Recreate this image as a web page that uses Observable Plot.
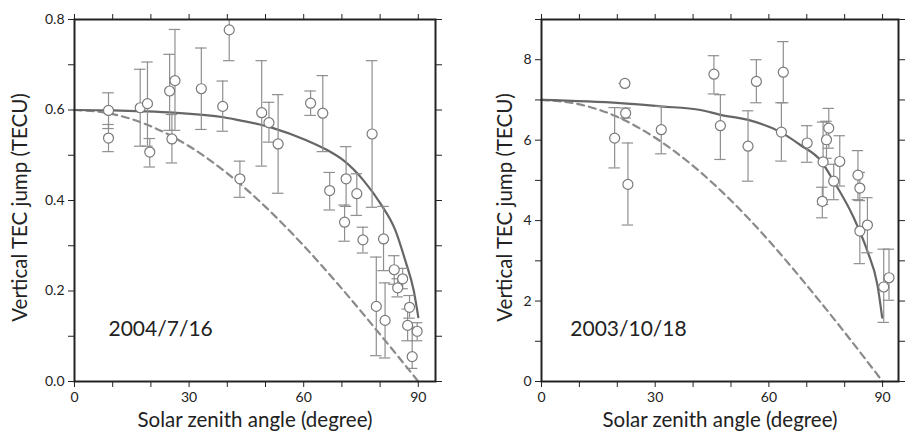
<!DOCTYPE html>
<html>
<head>
<meta charset="utf-8">
<script src="https://cdn.jsdelivr.net/npm/d3@7"></script>
<script src="https://cdn.jsdelivr.net/npm/@observablehq/plot@0.6"></script>
<style>
  html, body { margin: 0; padding: 0; background: #fff; }
  #wrap { display: flex; flex-direction: row; width: 905px; height: 439px; }
  svg { font-family: Lato, "Noto Sans", sans-serif; }
</style>
</head>
<body>
<div id="wrap"></div>
<script>
// ---------- Left panel: 2004/7/16 ----------
const leftAngle = [8.9, 8.9, 17.2, 19.1, 19.7, 24.9, 26.3, 25.5, 33.2, 40.5, 38.8, 43.3, 49.0, 50.9, 53.3, 61.8, 65.0, 66.8, 71.1, 70.7, 73.9, 77.9, 75.5, 80.9, 79.0, 81.3, 83.7, 84.6, 85.9, 87.7, 87.2, 89.7, 88.4];
const leftTec   = [0.599, 0.538, 0.605, 0.614, 0.507, 0.642, 0.665, 0.536, 0.647, 0.777, 0.608, 0.448, 0.594, 0.572, 0.525, 0.615, 0.593, 0.422, 0.448, 0.352, 0.415, 0.547, 0.313, 0.315, 0.166, 0.135, 0.247, 0.207, 0.227, 0.164, 0.124, 0.111, 0.055];
const leftLow   = [0.559, 0.508, 0.520, 0.520, 0.474, 0.555, 0.555, 0.483, 0.557, 0.709, 0.553, 0.407, 0.476, 0.529, 0.416, 0.588, 0.508, 0.379, 0.387, 0.310, 0.367, 0.385, 0.284, 0.245, 0.057, 0.052, 0.215, 0.187, 0.205, 0.140, 0.090, 0.090, 0.029];
const leftHigh  = [0.638, 0.568, 0.690, 0.706, 0.537, 0.723, 0.778, 0.590, 0.737, 0.845, 0.664, 0.487, 0.709, 0.617, 0.634, 0.642, 0.676, 0.462, 0.519, 0.390, 0.459, 0.709, 0.341, 0.387, 0.275, 0.218, 0.278, 0.227, 0.250, 0.190, 0.160, 0.130, 0.120];

const leftSolidAngle = [0, 10, 18, 26, 39, 43.3, 48.5, 52, 60.7, 66.0, 70.5, 75.7, 80.1, 84.0, 86.6, 88.8, 90.0];
const leftSolidTec   = [0.600, 0.599, 0.597, 0.594, 0.584, 0.577, 0.568, 0.560, 0.533, 0.512, 0.488, 0.444, 0.393, 0.334, 0.267, 0.201, 0.142];
const leftDashAngle  = [0, 10, 20, 30, 40, 50, 60, 70, 80, 90];
const leftDashTec    = [0.600, 0.591, 0.564, 0.520, 0.460, 0.386, 0.300, 0.205, 0.104, 0.000];

// ---------- Right panel: 2003/10/18 ----------
const rightAngle = [19.3, 22.0, 22.2, 22.8, 31.6, 45.5, 47.2, 54.5, 56.7, 63.8, 63.3, 70.1, 75.8, 75.2, 74.3, 78.7, 77.1, 83.5, 84.0, 74.1, 84.0, 86.0, 91.7, 90.3];
const rightTec   = [6.05, 7.41, 6.67, 4.90, 6.26, 7.64, 6.36, 5.85, 7.46, 7.69, 6.20, 5.93, 6.30, 6.01, 5.46, 5.47, 4.98, 5.13, 4.81, 4.48, 3.74, 3.89, 2.58, 2.35];
const rightLow   = [5.31, 7.41, 6.55, 3.89, 5.66, 7.15, 5.52, 4.98, 6.93, 6.93, 5.48, 5.45, 5.80, 5.55, 4.40, 4.86, 4.52, 4.52, 4.50, 4.07, 2.93, 3.20, 2.02, 1.47];
const rightHigh  = [6.81, 7.41, 6.80, 5.93, 6.84, 8.10, 7.13, 6.73, 8.00, 8.45, 6.93, 6.36, 6.79, 6.47, 6.45, 6.11, 5.40, 5.74, 5.20, 4.83, 4.50, 4.57, 3.29, 3.29];

const rightSolidAngle = [0, 20.8, 31.4, 42, 47.2, 54.3, 63.1, 68.3, 73.6, 77.1, 82.4, 86.0, 88.6, 89.9];
const rightSolidTec   = [7.00, 6.92, 6.84, 6.75, 6.63, 6.51, 6.20, 5.88, 5.50, 4.98, 4.07, 3.24, 2.42, 1.59];
const rightDashAngle  = [0, 10, 20, 30, 40, 50, 60, 70, 80, 90];
const rightDashTec    = [7.00, 6.89, 6.58, 6.06, 5.36, 4.50, 3.50, 2.39, 1.22, 0.00];

const xTicks = [0, 10, 20, 30, 40, 50, 60, 70, 80, 90];
const xLabels = [0, 30, 60, 90];
const leftYTicks = [0, 0.1, 0.2, 0.3, 0.4, 0.5, 0.6, 0.7, 0.8];
const leftYLabels = [0, 0.2, 0.4, 0.6, 0.8];
const rightYTicks = [0, 1, 2, 3, 4, 5, 6, 7, 8, 9];
const rightYLabels = [0, 2, 4, 6, 8];

const xTitle = "Solar zenith angle (degree)";
const yTitle = "Vertical TEC jump (TECU)";
const leftTag = "2004/7/16";
const rightTag = "2003/10/18";
const leftTagPos = [8.9, 0.10];
const rightTagPos = [7.6, 1.14];

const zip = (a, v, lo, hi) => a.map((x, i) => ({x, y: v[i], lo: lo[i], hi: hi[i]}));
const pairs = (a, v) => a.map((x, i) => ({x, y: v[i]}));

function panel({width, marginLeft, marginRight, xMax, yMax, yTicks, yLabels, yFmt, pts, solid, dash, tag, tagPos, yTitleDx}) {
  const cap = 1.5;
  return Plot.plot({
    width, height: 439,
    marginLeft, marginRight, marginTop: 19, marginBottom: 58,
    style: {fontFamily: "Lato, 'Noto Sans', sans-serif", fontSize: "14px", color: "#222", background: "#fff"},
    x: {domain: [0, xMax]},
    y: {domain: [0, yMax]},
    marks: [
      Plot.line(dash, {x: "x", y: "y", stroke: "#8a8a8a", strokeWidth: 2.2, strokeDasharray: "7,5", curve: "monotone-x"}),
      Plot.line(solid, {x: "x", y: "y", stroke: "#666", strokeWidth: 2.2, curve: "monotone-x"}),
      Plot.ruleX(pts, {x: "x", y1: "lo", y2: "hi", stroke: "#8f8f8f", strokeWidth: 1.2, clip: true}),
      Plot.ruleY(pts, {y: "lo", x1: d => d.x - cap, x2: d => d.x + cap, stroke: "#8f8f8f", strokeWidth: 1.2, clip: true}),
      Plot.ruleY(pts.filter(d => d.hi <= yMax), {y: "hi", x1: d => d.x - cap, x2: d => d.x + cap, stroke: "#8f8f8f", strokeWidth: 1.2}),
      Plot.dot(pts, {x: "x", y: "y", r: 5, fill: "white", stroke: "#7a7a7a", strokeWidth: 1.2}),
      Plot.axisX({ticks: xTicks, tickSize: 6, tickPadding: 5, tickFormat: d => xLabels.includes(d) ? String(d) : "", label: null, fontSize: 14}),
      Plot.axisX({anchor: "top", ticks: xTicks, tickSize: 6, tickFormat: () => "", label: null}),
      Plot.axisY({ticks: yTicks, tickSize: 6, tickPadding: 4, tickFormat: d => yLabels.some(v => Math.abs(v - d) < 1e-9) ? yFmt(d) : "", label: null, fontSize: 14}),
      Plot.axisY({anchor: "right", ticks: yTicks, tickSize: 6, tickFormat: () => "", label: null}),
      Plot.frame({stroke: "#222", strokeWidth: 2}),
      Plot.text([xTitle], {frameAnchor: "bottom", textAnchor: "middle", dy: 45, fontSize: 20.5, fill: "#222"}),
      Plot.text([yTitle], {frameAnchor: "left", textAnchor: "middle", dx: yTitleDx, dy: 7, rotate: -90, fontSize: 20.5, fill: "#222"}),
      Plot.text([tag], {x: tagPos[0], y: tagPos[1], textAnchor: "start", lineAnchor: "bottom", fontSize: 21, fill: "#222"})
    ]
  });
}

const wrap = document.getElementById("wrap");
wrap.append(panel({
  width: 460, marginLeft: 74, marginRight: 25, xMax: 94.5, yMax: 0.8,
  yTicks: leftYTicks, yLabels: leftYLabels, yFmt: d3.format(".1f"),
  pts: zip(leftAngle, leftTec, leftLow, leftHigh),
  solid: pairs(leftSolidAngle, leftSolidTec), dash: pairs(leftDashAngle, leftDashTec),
  tag: leftTag, tagPos: leftTagPos, yTitleDx: -54
}));
wrap.append(panel({
  width: 445, marginLeft: 81, marginRight: 7, xMax: 94.2, yMax: 9,
  yTicks: rightYTicks, yLabels: rightYLabels, yFmt: d3.format("d"),
  pts: zip(rightAngle, rightTec, rightLow, rightHigh),
  solid: pairs(rightSolidAngle, rightSolidTec), dash: pairs(rightDashAngle, rightDashTec),
  tag: rightTag, tagPos: rightTagPos, yTitleDx: -36
}));
</script>
</body>
</html>
